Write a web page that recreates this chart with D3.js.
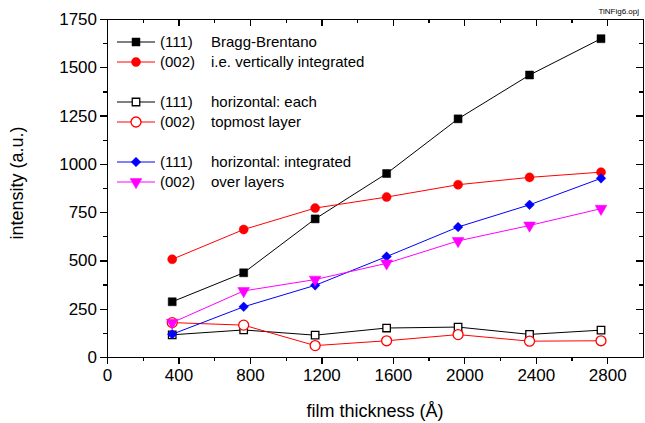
<!DOCTYPE html>
<html>
<head>
<meta charset="utf-8">
<title>TiN film intensity vs thickness</title>
<style>
  body { margin: 0; background: #fff; }
  svg { display: block; font-family: "Liberation Sans", Arial, sans-serif; }
  .axis path, .axis line { stroke: #000; stroke-width: 1.3px; shape-rendering: crispEdges; }
  .axis text { font-size: 17px; fill: #000; font-family: "Liberation Sans", Arial, sans-serif; }
  .legend text { font-size: 15px; fill: #000; }
</style>
</head>
<body>
<div id="chart"></div>
<script src="https://d3js.org/d3.v7.min.js"></script>
<script>

// film thickness (Angstrom)
var thickness = [365, 765, 1165, 1565, 1965, 2365, 2765];

// intensities (a.u.)
var braggBrentano111 = [286, 436, 715, 950, 1233, 1460, 1648];
var verticalInt002   = [506, 660, 771, 828, 892, 930, 957];
var topmost111       = [115, 140, 113, 150, 155, 117, 139];
var topmost002       = [178, 165, 59, 84, 116, 82, 84];
var horizInt111      = [118, 260, 371, 520, 673, 788, 925];
var horizInt002      = [178, 342, 401, 485, 601, 681, 768];

var xTicks = [0, 400, 800, 1200, 1600, 2000, 2400, 2800];
var yTicks = [0, 250, 500, 750, 1000, 1250, 1500, 1750];

var series = [
  {hkl: "(111)", label: "Bragg-Brentano",             values: braggBrentano111, color: "#000000", shape: "square",   filled: true},
  {hkl: "(002)", label: "i.e. vertically integrated", values: verticalInt002,   color: "#ff0000", shape: "circle",   filled: true},
  {hkl: "(111)", label: "horizontal: each",           values: topmost111,       color: "#000000", shape: "square",   filled: false},
  {hkl: "(002)", label: "topmost layer",              values: topmost002,       color: "#ff0000", shape: "circle",   filled: false},
  {hkl: "(111)", label: "horizontal: integrated",     values: horizInt111,      color: "#0000ff", shape: "diamond",  filled: true},
  {hkl: "(002)", label: "over layers",                values: horizInt002,      color: "#ff00ff", shape: "triangle", filled: true}
];
// legend rows (blank row between the groups)
var legendRow = [0, 1, 3, 4, 6, 7];

var W = 645, H = 423;
var margin = {top: 19, right: 2, bottom: 66, left: 107};
var width  = W - margin.left - margin.right,
    height = H - margin.top - margin.bottom;

var x = d3.scaleLinear().domain([0, 3000]).range([0, width]);
var y = d3.scaleLinear().domain([0, 1750]).range([height, 0]);

var svg = d3.select("#chart").append("svg")
    .attr("width", W)
    .attr("height", H);

var chart = svg.append("g")
    .attr("transform", "translate(" + margin.left + "," + margin.top + ")");

var xMinor = d3.range(200, 3000, 400);
var yMinor = d3.range(125, 1750, 250);

// bottom axis
chart.append("g").attr("class", "axis")
    .attr("transform", "translate(0," + height + ")")
    .call(d3.axisBottom(x).tickValues(xTicks).tickSize(7).tickSizeOuter(0).tickPadding(5).tickFormat(d3.format("d")));
chart.append("g").attr("class", "axis")
    .attr("transform", "translate(0," + height + ")")
    .call(d3.axisBottom(x).tickValues(xMinor).tickSize(4).tickSizeOuter(0).tickFormat(""));

// left axis
chart.append("g").attr("class", "axis")
    .call(d3.axisLeft(y).tickValues(yTicks).tickSize(7).tickSizeOuter(0).tickPadding(3).tickFormat(d3.format("d")));
chart.append("g").attr("class", "axis")
    .call(d3.axisLeft(y).tickValues(yMinor).tickSize(4).tickSizeOuter(0).tickFormat(""));

// top axis, ticks inward
chart.append("g").attr("class", "axis")
    .call(d3.axisBottom(x).tickValues(xTicks.concat([3000])).tickSize(7).tickSizeOuter(0).tickFormat(""));
chart.append("g").attr("class", "axis")
    .call(d3.axisBottom(x).tickValues(xMinor).tickSize(4).tickSizeOuter(0).tickFormat(""));

// right axis, ticks inward
chart.append("g").attr("class", "axis")
    .attr("transform", "translate(" + width + ",0)")
    .call(d3.axisLeft(y).tickValues(yTicks).tickSize(7).tickSizeOuter(0).tickFormat(""));
chart.append("g").attr("class", "axis")
    .attr("transform", "translate(" + width + ",0)")
    .call(d3.axisLeft(y).tickValues(yMinor).tickSize(4).tickSizeOuter(0).tickFormat(""));

// axis titles
svg.append("text")
    .attr("x", 375).attr("y", 417)
    .attr("text-anchor", "middle")
    .style("font-size", "18px")
    .text("film thickness (\u00C5)");

svg.append("text")
    .attr("transform", "translate(23,183) rotate(-90)")
    .attr("text-anchor", "middle")
    .style("font-size", "18px")
    .text("intensity (a.u.)");

svg.append("text")
    .attr("x", 639).attr("y", 14)
    .attr("text-anchor", "end")
    .style("font-size", "8px")
    .text("TiNFig6.opj");

// marker drawing
function symbolFor(s) {
  if (s.shape === "square")   return d3.symbol().type(d3.symbolSquare).size(s.filled ? 64 : 56);
  if (s.shape === "circle")   return d3.symbol().type(d3.symbolCircle).size(s.filled ? 64 : 78);
  if (s.shape === "diamond")  return d3.symbol().type(d3.symbolSquare).size(46);
  return d3.symbol().type(d3.symbolTriangle).size(60);
}
function drawMarker(g, s, px, py) {
  var rot = s.shape === "triangle" ? " rotate(180)" : (s.shape === "diamond" ? " rotate(45)" : "");
  g.append("path")
      .attr("d", symbolFor(s)())
      .attr("transform", "translate(" + px + "," + py + ")" + rot)
      .attr("fill", s.filled ? s.color : "#fff")
      .attr("stroke", s.color)
      .attr("stroke-width", s.filled ? 0.5 : 1.3);
}

var line = d3.line()
    .x(function(d, i) { return x(thickness[i]); })
    .y(function(d) { return y(d); });

series.forEach(function(s) {
  chart.append("path")
      .datum(s.values)
      .attr("d", line)
      .attr("fill", "none")
      .attr("stroke", s.color)
      .attr("stroke-width", 1);
});

// draw markers after all lines
series.forEach(function(s) {
  s.values.forEach(function(v, i) {
    drawMarker(chart, s, x(thickness[i]), y(v));
  });
});

// legend
var legend = svg.append("g").attr("class", "legend");
series.forEach(function(s, k) {
  var ly = 42 + legendRow[k] * 20;
  legend.append("line")
      .attr("x1", 117).attr("x2", 155)
      .attr("y1", ly).attr("y2", ly)
      .attr("stroke", s.color)
      .attr("stroke-width", 1);
  drawMarker(legend, s, 136, ly);
  legend.append("text").attr("x", 160).attr("y", ly + 5).text(s.hkl);
  legend.append("text").attr("x", 211).attr("y", ly + 5).text(s.label);
});

</script>
</body>
</html>
